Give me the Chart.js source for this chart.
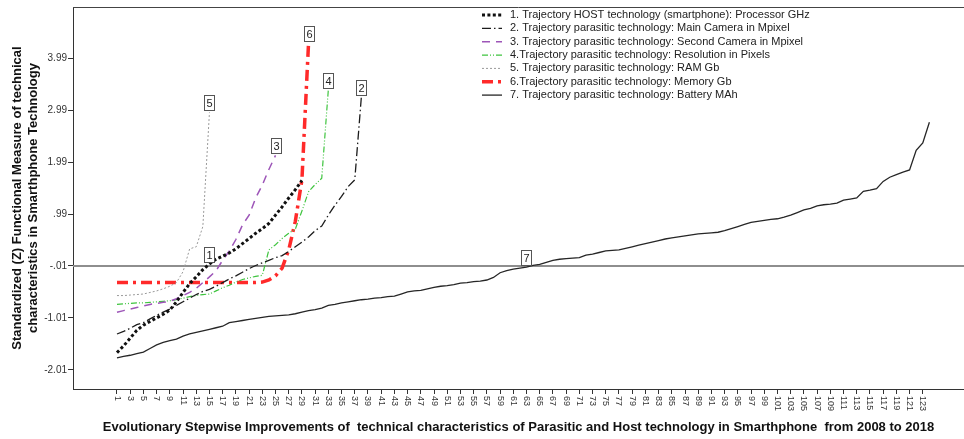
<!DOCTYPE html>
<html>
<head>
<meta charset="utf-8">
<script src="https://cdn.jsdelivr.net/npm/chart.js@4.4.1/dist/chart.umd.min.js"></script>
<style>
  html, body { margin: 0; padding: 0; background: #fff; }
  #wrap { width: 964px; height: 439px; }
</style>
</head>
<body>
<div id="wrap"><canvas id="chart" width="964" height="439"></canvas></div>
<script>
// series names (legend)
const seriesNames = [
  "1. Trajectory HOST technology (smartphone): Processor GHz",
  "2. Trajectory parasitic technology: Main Camera in Mpixel",
  "3. Trajectory parasitic technology: Second Camera in Mpixel",
  "4.Trajectory parasitic technology: Resolution in Pixels",
  "5. Trajectory parasitic technology: RAM Gb",
  "6.Trajectory parasitic technology: Memory Gb",
  "7. Trajectory parasitic technology: Battery MAh"
];

// standardized Z values, step 1..n
const processor = [-1.68, -1.55, -1.40, -1.25, -1.15, -1.08, -1.01, -0.94, -0.86, -0.70,
  -0.52, -0.35, -0.22, -0.08, 0.03, 0.12, 0.18, 0.24, 0.32, 0.42,
  0.52, 0.62, 0.71, 0.81, 0.97, 1.13, 1.30, 1.46, 1.64];

const mainCamera = [-1.32, -1.27, -1.21, -1.14, -1.10, -1.03, -0.96, -0.90, -0.84, -0.77,
  -0.70, -0.63, -0.56, -0.50, -0.46, -0.40, -0.33, -0.26, -0.20, -0.13,
  -0.06, 0.00, 0.05, 0.10, 0.15, 0.19, 0.27, 0.36, 0.45, 0.55,
  0.67, 0.76, 0.97, 1.16, 1.33, 1.52, 1.65, 3.25];

const secondCamera = [-0.90, -0.87, -0.84, -0.81, -0.78, -0.75, -0.73, -0.71, -0.69, -0.64,
  -0.58, -0.52, -0.44, -0.33, -0.22, -0.10, 0.10, 0.28, 0.50, 0.78,
  0.97, 1.30, 1.55, 1.85, 2.12];

const resolution = [-0.75, -0.74, -0.73, -0.72, -0.72, -0.71, -0.70, -0.69, -0.68, -0.66,
  -0.63, -0.60, -0.58, -0.56, -0.55, -0.49, -0.43, -0.38, -0.32, -0.27,
  -0.24, -0.21, -0.19, 0.30, 0.40, 0.52, 0.62, 0.70, 1.05, 1.42,
  1.56, 1.68, 3.39];

const ram = [-0.58, -0.58, -0.57, -0.56, -0.55, -0.52, -0.49, -0.45, -0.40, -0.33,
  -0.12, 0.32, 0.36, 0.75, 2.95];

const memory = [-0.33, -0.33, -0.33, -0.33, -0.33, -0.33, -0.33, -0.33, -0.33, -0.33,
  -0.33, -0.33, -0.33, -0.33, -0.33, -0.33, -0.33, -0.33, -0.33, -0.33,
  -0.33, -0.33, -0.32, -0.28, -0.20, -0.05, 0.30, 0.85, 1.65, 4.28];

const battery = [-1.78, -1.75, -1.73, -1.70, -1.67, -1.60, -1.53, -1.48, -1.45, -1.42,
  -1.36, -1.32, -1.29, -1.26, -1.23, -1.20, -1.17, -1.10, -1.08, -1.06,
  -1.04, -1.02, -1.00, -0.98, -0.97, -0.96, -0.95, -0.93, -0.90, -0.87,
  -0.85, -0.82, -0.77, -0.75, -0.72, -0.70, -0.68, -0.66, -0.65, -0.63,
  -0.62, -0.60, -0.59, -0.55, -0.51, -0.49, -0.48, -0.45, -0.42, -0.40,
  -0.39, -0.37, -0.34, -0.33, -0.31, -0.30, -0.28, -0.23, -0.14, -0.10,
  -0.07, -0.05, -0.03, 0.00, 0.02, 0.06, 0.10, 0.12, 0.13, 0.14,
  0.15, 0.20, 0.22, 0.25, 0.28, 0.29, 0.30, 0.33, 0.36, 0.39,
  0.42, 0.45, 0.48, 0.51, 0.53, 0.55, 0.57, 0.59, 0.61, 0.62,
  0.63, 0.64, 0.67, 0.71, 0.75, 0.79, 0.83, 0.85, 0.87, 0.89,
  0.90, 0.93, 0.97, 1.02, 1.07, 1.10, 1.15, 1.17, 1.18, 1.20,
  1.26, 1.28, 1.30, 1.43, 1.45, 1.48, 1.62, 1.70, 1.75, 1.80,
  1.84, 2.22, 2.36, 2.76];

// numbered markers on the lines: label + step where it sits
const markerLabels = ["1", "2", "3", "4", "5", "6", "7"];
const markerSteps  = [15, 38, 25, 33, 15, 30, 63];

// axes
const yTickValues = [-2.01, -1.01, -0.01, 0.99, 1.99, 2.99, 3.99];
const yTickLabels = ["-2.01", "-1.01", "-.01", ".99", "1.99", "2.99", "3.99"];
const xTickValues = [1, 3, 5, 7, 9, 11, 13, 15, 17, 19, 21, 23, 25, 27, 29, 31, 33, 35, 37, 39,
  41, 43, 45, 47, 49, 51, 53, 55, 57, 59, 61, 63, 65, 67, 69, 71, 73, 75, 77, 79,
  81, 83, 85, 87, 89, 91, 93, 95, 97, 99, 101, 103, 105, 107, 109, 111, 113, 115, 117, 119,
  121, 123];
const referenceY = -0.01;

const xTitle = "Evolutionary Stepwise Improvements of  technical characteristics of Parasitic and Host technology in Smarthphone  from 2008 to 2018";
const yTitle = ["Standardized (Z) Functional Measure of technical", "characteristics in Smarthphone Technology"];

const FONT = '"Liberation Sans", Arial, Helvetica, sans-serif';
Chart.defaults.font.family = FONT;

const toPoints = arr => arr.map((v, i) => ({ x: i + 1, y: v }));

const styles = [
  { color: "#111111", width: 3,   dash: [3, 2.4] },
  { color: "#1c1c1c", width: 1.3, dash: [9, 3, 1.5, 3] },
  { color: "#9d55b8", width: 1.5, dash: [8, 6] },
  { color: "#3fc43f", width: 1.2, dash: [6, 2, 1, 2, 1, 2] },
  { color: "#9a9a9a", width: 1,   dash: [2, 2] },
  { color: "#ff2a2a", width: 3.5, dash: [11, 5, 3, 5] },
  { color: "#262626", width: 1.3, dash: [] }
];
const seriesData = [processor, mainCamera, secondCamera, resolution, ram, memory, battery];

// grey reference line at -.01 and top frame
const refLine = {
  id: "refLine",
  beforeDatasetsDraw(chart) {
    const { ctx, chartArea: a, scales: { y } } = chart;
    const py = y.getPixelForValue(referenceY);
    ctx.save();
    ctx.strokeStyle = "#8e8e8e";
    ctx.lineWidth = 2;
    ctx.beginPath(); ctx.moveTo(a.left, py); ctx.lineTo(a.right, py); ctx.stroke();
    ctx.strokeStyle = "#444";
    ctx.lineWidth = 1;
    ctx.beginPath(); ctx.moveTo(a.left, a.top + 0.5); ctx.lineTo(a.right, a.top + 0.5); ctx.stroke();
    ctx.restore();
  }
};

// rotated x tick labels (read top to bottom) + numbered boxes + legend
const overlay = {
  id: "overlay",
  afterDraw(chart) {
    const { ctx, chartArea: a, scales: { x } } = chart;
    ctx.save();

    ctx.fillStyle = "#333";
    ctx.font = "9px " + FONT;
    ctx.textAlign = "left";
    ctx.textBaseline = "middle";
    xTickValues.forEach(v => {
      const px = x.getPixelForValue(v);
      ctx.save();
      ctx.translate(px, a.bottom + 7);
      ctx.rotate(Math.PI / 2);
      ctx.fillText(String(v), 0, 0);
      ctx.restore();
    });

    // boxes
    ctx.font = "11px " + FONT;
    ctx.textAlign = "center";
    markerLabels.forEach((lab, i) => {
      const pt = chart.getDatasetMeta(i).data[markerSteps[i] - 1];
      if (!pt) return;
      const w = 10, h = 15;
      const bx = Math.round(pt.x - w / 2) + 0.5, by = Math.round(pt.y - 2 - h) + 0.5;
      ctx.fillStyle = "#fff";
      ctx.fillRect(bx, by, w, h);
      ctx.strokeStyle = "#555";
      ctx.lineWidth = 1;
      ctx.strokeRect(bx, by, w, h);
      ctx.fillStyle = "#222";
      ctx.fillText(lab, bx + w / 2, by + h / 2 + 0.5);
    });

    // legend
    ctx.textAlign = "left";
    ctx.font = "11px " + FONT;
    seriesNames.forEach((name, i) => {
      const yy = 15 + i * 13.35;
      const s = styles[i];
      ctx.save();
      ctx.strokeStyle = s.color;
      ctx.lineWidth = s.width;
      ctx.setLineDash(s.dash);
      ctx.beginPath(); ctx.moveTo(482, yy); ctx.lineTo(502, yy); ctx.stroke();
      ctx.restore();
      ctx.fillStyle = "#222";
      ctx.fillText(name, 510, yy);
    });

    ctx.restore();
  }
};

new Chart(document.getElementById("chart"), {
  type: "line",
  data: {
    datasets: seriesData.map((arr, i) => ({
      label: seriesNames[i],
      data: toPoints(arr),
      borderColor: styles[i].color,
      borderWidth: styles[i].width,
      borderDash: styles[i].dash,
      pointRadius: 0,
      tension: 0,
      fill: false
    }))
  },
  options: {
    responsive: false,
    animation: false,
    layout: { padding: { top: 3, right: 0, left: 0, bottom: 0 } },
    plugins: { legend: { display: false }, tooltip: { enabled: false } },
    scales: {
      x: {
        type: "linear",
        min: -5.66,
        max: 129.24,
        afterBuildTicks: s => { s.ticks = xTickValues.map(v => ({ value: v })); },
        afterFit: s => { s.height = 50; },
        ticks: { display: false },
        grid: { display: true, drawOnChartArea: false, drawTicks: true, tickLength: 5, color: "#333" },
        border: { display: true, color: "#333", width: 1 },
        title: {
          display: true, text: xTitle, color: "#111",
          font: { size: 13, weight: "bold" }, padding: { top: 0, bottom: 4 }
        }
      },
      y: {
        type: "linear",
        min: -2.38,
        max: 4.98,
        afterBuildTicks: s => { s.ticks = yTickValues.map(v => ({ value: v })); },
        afterFit: s => { s.width = 73; },
        ticks: {
          color: "#333", font: { size: 10 }, padding: 1,
          callback: v => { const k = yTickValues.indexOf(v); return k >= 0 ? yTickLabels[k] : ""; }
        },
        grid: { display: true, drawOnChartArea: false, drawTicks: true, tickLength: 5, color: "#333" },
        border: { display: true, color: "#333", width: 1 },
        title: {
          display: true, text: yTitle, color: "#111",
          font: { size: 13, weight: "bold" }, padding: { top: 10, bottom: 0 }
        }
      }
    }
  },
  plugins: [refLine, overlay]
});
</script>
</body>
</html>
